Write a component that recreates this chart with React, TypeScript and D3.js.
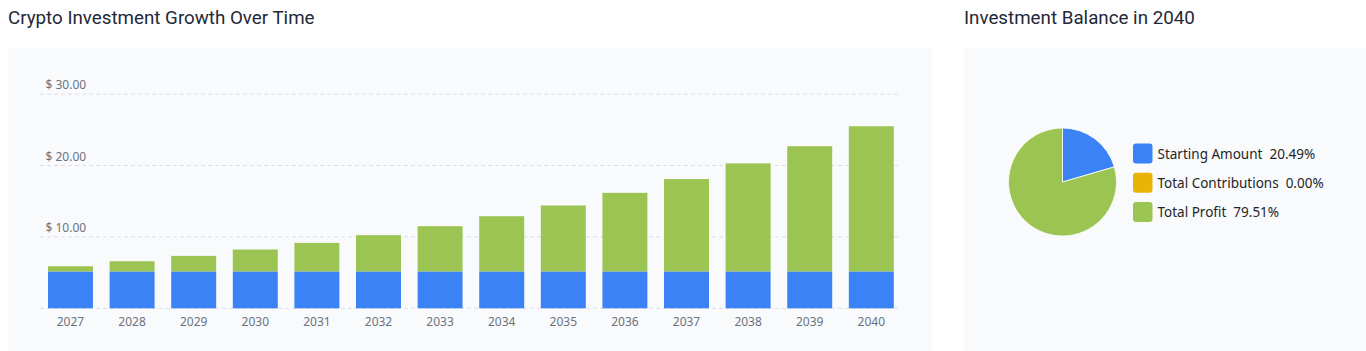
import React, { useEffect, useRef } from 'react';
import * as d3 from 'd3';

const years = [2027, 2028, 2029, 2030, 2031, 2032, 2033, 2034, 2035, 2036, 2037, 2038, 2039, 2040];
const startingAmount = [5.13, 5.13, 5.13, 5.13, 5.13, 5.13, 5.13, 5.13, 5.13, 5.13, 5.13, 5.13, 5.13, 5.13];
const totalValue = [5.89, 6.59, 7.34, 8.23, 9.16, 10.24, 11.5, 12.9, 14.4, 16.17, 18.1, 20.3, 22.7, 25.5];
const yTicks = [0, 10, 20, 30];

const pieLabels = ['Starting Amount', 'Total Contributions', 'Total Profit'];
const pieShares = [20.49, 0.0, 79.51];
const pieColors = ['#3b82f6', '#eab308', '#9bc453'];

const BLUE = '#3b82f6';
const GREEN = '#9bc453';

const App: React.FC = () => {
  const svgRef = useRef<SVGSVGElement>(null);

  useEffect(() => {
    if (!svgRef.current) return;
    const svg = d3.select(svgRef.current);
    svg.selectAll('*').remove();

    const width = 1366;
    const height = 351;
    svg.attr('width', width).attr('height', height);

    // panels
    svg.append('rect').attr('x', 8).attr('y', 48).attr('width', 924).attr('height', 303).attr('fill', '#f8fafc');
    svg.append('rect').attr('x', 964).attr('y', 48).attr('width', 402).attr('height', 303).attr('fill', '#f8fafc');

    // titles
    svg.append('text').attr('x', 8).attr('y', 24)
      .style('font-family', 'Roboto').style('font-size', '18.75px').attr('fill', '#1f2937')
      .text('Crypto Investment Growth Over Time');
    svg.append('text').attr('x', 964).attr('y', 24)
      .style('font-family', 'Roboto').style('font-size', '18.75px').attr('fill', '#1f2937')
      .text('Investment Balance in 2040');

    // bar chart
    const x = d3.scaleBand<number>()
      .domain(years)
      .range([48, 893.8])
      .paddingInner(0.27)
      .paddingOuter(0);

    const y = d3.scaleLinear().domain([0, 30]).range([308.3, 94.1]);

    const grid = svg.append('g');
    yTicks.forEach(t => {
      grid.append('line')
        .attr('x1', 40).attr('x2', 900)
        .attr('y1', y(t)).attr('y2', y(t))
        .attr('stroke', '#dcdfe4').attr('stroke-dasharray', '4,3');
      if (t > 0) {
        grid.append('text')
          .attr('x', 45.5).attr('y', y(t) - 5)
          .style('font-family', 'Noto Sans').style('font-size', '12px')
          .attr('fill', '#6b7280')
          .text(`$ ${t.toFixed(2)}`);
      }
    });

    const bars = svg.append('g');
    years.forEach((yr, i) => {
      const bx = x(yr) ?? 0;
      bars.append('rect')
        .attr('x', bx).attr('width', x.bandwidth())
        .attr('y', y(totalValue[i])).attr('height', y(startingAmount[i]) - y(totalValue[i]))
        .attr('fill', GREEN);
      bars.append('rect')
        .attr('x', bx).attr('width', x.bandwidth())
        .attr('y', y(startingAmount[i])).attr('height', y(0) - y(startingAmount[i]))
        .attr('fill', BLUE);
    });

    const xAxis = svg.append('g')
      .attr('transform', `translate(0,${y(0)})`)
      .call(d3.axisBottom(x).tickSize(0).tickPadding(9).tickFormat(d => String(d)));
    xAxis.select('.domain').remove();
    xAxis.selectAll('text')
      .style('font-family', 'Noto Sans').style('font-size', '12px').attr('fill', '#6b7280');

    // pie
    const cx = 1062.5;
    const cy = 182;
    const r = 54;
    const pie = d3.pie<number>().sort(null).value(d => d);
    const arc = d3.arc<d3.PieArcDatum<number>>().innerRadius(0).outerRadius(r);
    const pg = svg.append('g').attr('transform', `translate(${cx},${cy})`);
    pg.selectAll('path')
      .data(pie(pieShares))
      .enter()
      .append('path')
      .attr('d', arc)
      .attr('fill', (_, i) => pieColors[i])
      .attr('stroke', '#ffffff')
      .attr('stroke-width', d => (d.endAngle - d.startAngle > 0 ? 0.8 : 0));

    // legend
    const lg = svg.append('g');
    pieLabels.forEach((lab, i) => {
      const ly = 153.5 + i * 29.3;
      lg.append('rect')
        .attr('x', 1133).attr('y', ly - 10).attr('width', 19.5).attr('height', 20)
        .attr('rx', 3).attr('fill', pieColors[i]);
      lg.append('text')
        .attr('x', 1157.5).attr('y', ly + 5)
        .style('font-family', 'Noto Sans').style('font-size', '13.5px')
        .attr('fill', '#262626')
        .text(`${lab}  ${pieShares[i].toFixed(2)}%`)
        .attr('xml:space', 'preserve')
        .style('white-space', 'pre');
    });
  }, []);

  return (
    <div style={{ position: 'absolute', left: 0, top: 0 }}>
      <svg ref={svgRef} style={{ display: 'block' }}></svg>
    </div>
  );
};

export default App;
